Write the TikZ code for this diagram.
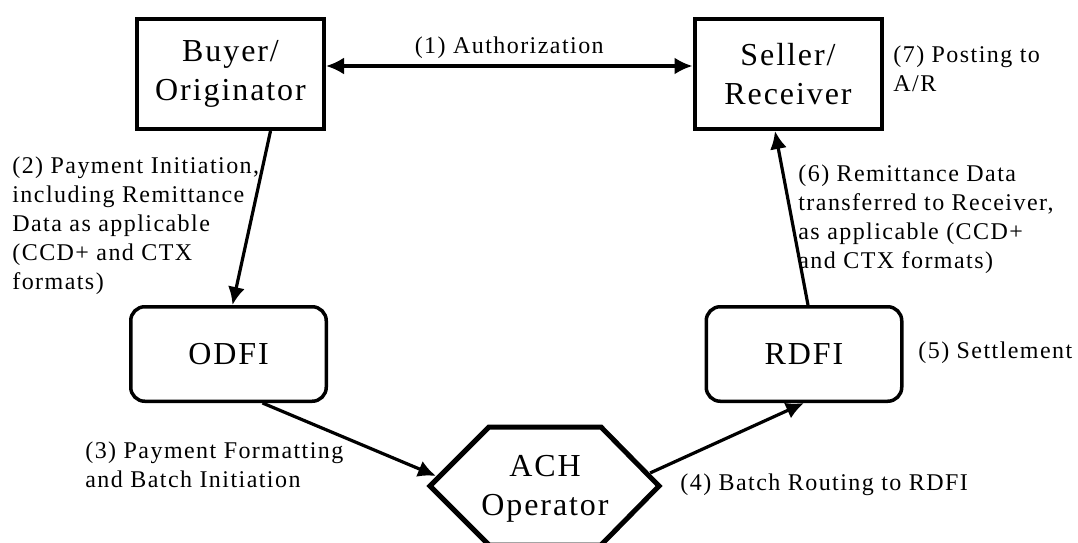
\documentclass[tikz,border=0pt]{standalone}
\usepackage{fontspec}
\setmainfont{Liberation Serif}[LetterSpace=6]
\usetikzlibrary{arrows.meta,calc}
\tikzset{party/.style={draw,line width=2pt,align=center,
                       minimum width=93.5pt,minimum height=55pt,
                       font=\fontsize{16}{19.5}\selectfont}}
\tikzset{bank/.style={party,line width=1.75pt,rounded corners=7pt,
                      minimum width=97.75pt,minimum height=47.25pt}}

\begin{document}
\begin{tikzpicture}[x=0.5pt,y=-0.5pt,>={Latex[length=9pt,width=8.5pt]},
    % styles for clarity
    flow/.style   ={->,line width=1.6pt},
    note/.style   ={align=left,inner sep=0pt,
                    font=\fontsize{12}{14.5}\selectfont},
    hexline/.style={line width=2.5pt,line join=miter},
  ]
    \useasboundingbox (0,0) rectangle (1078,542);

    \node[party](buyer) at (230.5,74) {Buyer/\\Originator};
    \node[party](seller) at (788,74) {Seller/\\Receiver};
    \node[bank](odfi) at (228.5,354) {ODFI};
    \node[bank](rdfi) at (804,354) {RDFI};

    % ACH operator hexagon
    \coordinate (hw) at (430,486);
    \coordinate (hnw) at (489,427);
    \coordinate (hne) at (601,427);
    \coordinate (he) at (659,486);
    \coordinate (hse) at (601,545);
    \coordinate (hsw) at (489,545);
    \draw[hexline] (hw) -- (hnw) -- (hne) -- (he) -- (hse) -- (hsw) -- cycle;
    \node[align=center,font=\fontsize{16}{19.5}\selectfont](ach) at (545,489) {ACH\\Operator};
    \coordinate (achin) at ($(hw)!0.15!(hnw)$);
    \coordinate (achout) at ($(he)!0.2!(hne)$);

    \draw[flow,<->] ([yshift=4pt]buyer.east) --
        node[note,above=3pt](lauth){(1) Authorization} ([yshift=4pt]seller.west);
    \draw[flow] ([xshift=20pt]buyer.south) -- ([xshift=2pt]odfi.north);
    \draw[flow,shorten >=1.5pt] ([xshift=17pt]odfi.south) -- (achin);
    \draw[flow,shorten <=1.5pt] (achout) -- (rdfi.south);
    \draw[flow] ([xshift=2pt]rdfi.north) -- ([xshift=-6.5pt]seller.south);

    % labels, placed by the baseline of their last line
    \node[note,anchor=base west](linit) at (12,289)
        {(2) Payment Initiation,\\including Remittance\\Data as applicable\\(CCD+ and CTX\\formats)};
    \node[note,anchor=base west](lformat) at (85,487)
        {(3) Payment Formatting\\and Batch Initiation};
    \node[note,anchor=base west](lroute) at (680,490) {(4) Batch Routing to RDFI};
    \node[note,anchor=base west](lsettle) at (918,358) {(5) Settlement};
    \node[note,anchor=base west](lremit) at (798,268)
        {(6) Remittance Data\\transferred to Receiver,\\as applicable (CCD+\\and CTX formats)};
    \node[note,anchor=base west](lpost) at (893,91) {(7) Posting to\\A/R};
\end{tikzpicture}
\end{document}
